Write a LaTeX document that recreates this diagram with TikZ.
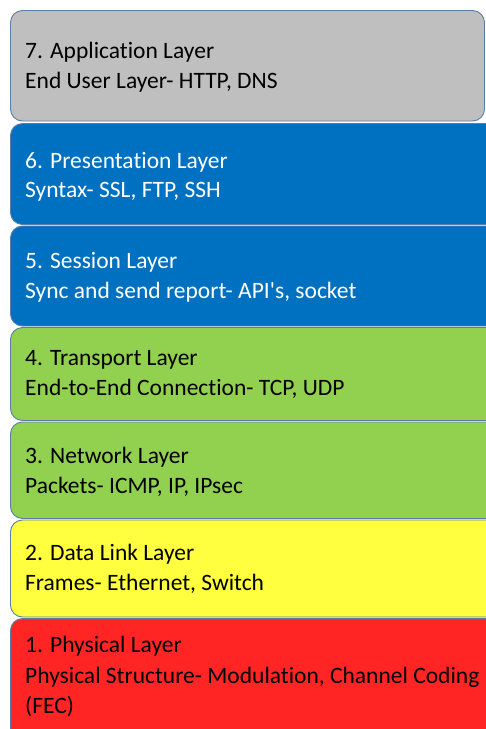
\documentclass[tikz,border=0pt]{standalone}
\usepackage{fontspec}
\setmainfont{Carlito}[Ligatures={NoCommon}]
\definecolor{laygray}{HTML}{BFBFBF}
\definecolor{layblue}{HTML}{0070C0}
\definecolor{laygreen}{HTML}{92D050}
\definecolor{layyellow}{HTML}{FFFF40}
\definecolor{layred}{HTML}{FF2525}
\definecolor{layedge}{HTML}{5B7DA8}
\tikzset{
  layer/.style={draw=layedge, line width=0.9pt, rounded corners=12pt},
  txt/.style={anchor=base west, inner sep=0pt, font=\fontsize{23.5}{28}\selectfont},
}
\begin{document}
\begin{tikzpicture}[x=1pt,y=-1pt]
  \useasboundingbox (0,0) rectangle (486,729);
  \fill[white] (0,0) rectangle (486,729);
  \begin{scope}
    \clip (0,0) rectangle (486,729);
    % layer boxes, top to bottom
    \draw[layer, fill=laygray]   (10.5,10.5)  rectangle (484.5,121);
    \draw[layer, fill=layblue]   (10.5,123.5) rectangle (498,224.5);
    \draw[layer, fill=layblue]   (10.5,226)   rectangle (498,326);
    \draw[layer, fill=laygreen]  (10.5,327.5) rectangle (498,420.5);
    \draw[layer, fill=laygreen]  (10.5,422)   rectangle (498,518.5);
    \draw[layer, fill=layyellow] (10.5,520)   rectangle (498,617);
    \draw[layer, fill=layred]    (10.5,618.5) rectangle (498,740);
  \end{scope}
  % layer labels
  \node[txt] (l7a) at (25,58)  {7. Application Layer};
  \node[txt] (l7b) at (25,88)  {End User Layer- HTTP, DNS};
  \node[txt, text=white] (l6a) at (25,168) {6. Presentation Layer};
  \node[txt, text=white] (l6b) at (25,197) {Syntax- SSL, FTP, SSH};
  \node[txt, text=white] (l5a) at (25,268) {5. Session Layer};
  \node[txt, text=white] (l5b) at (25,298) {Sync and send report- API\textquotesingle s, socket};
  \node[txt] (l4a) at (25,365) {4. Transport Layer};
  \node[txt] (l4b) at (25,395) {End-to-End Connection- TCP, UDP};
  \node[txt] (l3a) at (25,463) {3. Network Layer};
  \node[txt] (l3b) at (25,493) {Packets- ICMP, IP, IPsec};
  \node[txt] (l2a) at (25,560) {2. Data Link Layer};
  \node[txt] (l2b) at (25,590) {Frames- Ethernet, Switch};
  \node[txt] (l1a) at (25,652) {1. Physical Layer};
  \node[txt] (l1b) at (25,683) {Physical Structure- Modulation, Channel Coding};
  \node[txt] (l1c) at (25,713) {(FEC)};
\end{tikzpicture}
\end{document}
